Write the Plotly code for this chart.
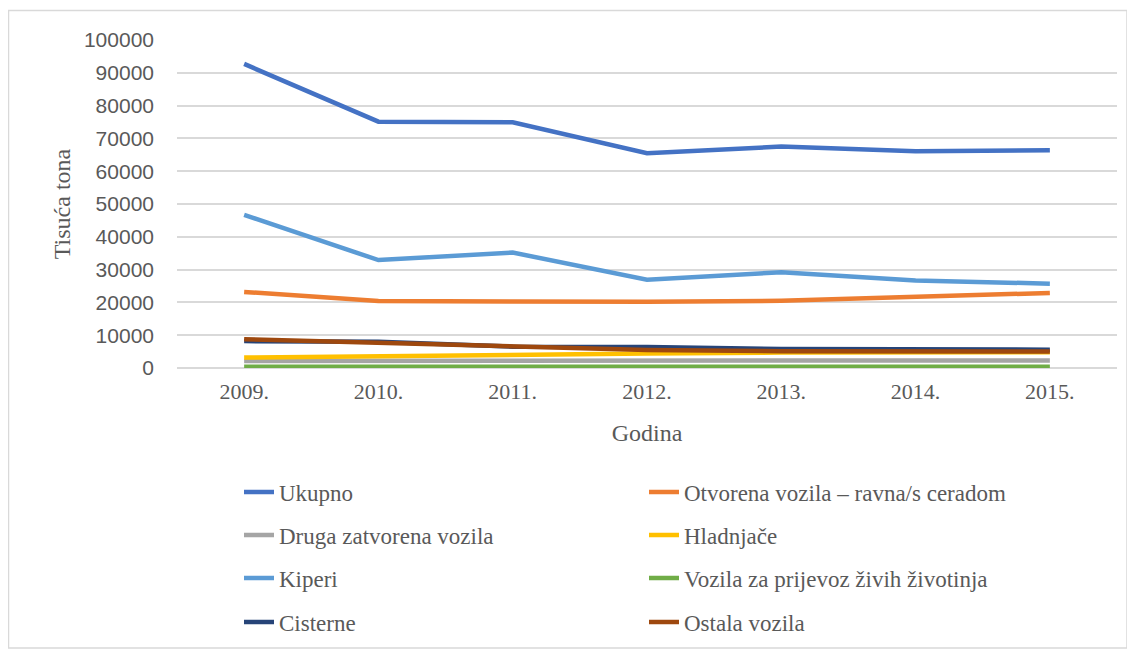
import plotly.graph_objects as go

years = ["2009.", "2010.", "2011.", "2012.", "2013.", "2014.", "2015."]

ukupno = [92700, 75100, 74900, 65500, 67500, 66100, 66400]
otvorena = [23200, 20400, 20300, 20200, 20500, 21600, 22900]
druga = [2100, 2200, 2200, 2300, 2300, 2300, 2300]
hladnjace = [3200, 3700, 4100, 4400, 4700, 4800, 4800]
kiperi = [46700, 32900, 35200, 26900, 29200, 26700, 25700]
zivotinje = [400, 400, 400, 400, 400, 400, 400]
cisterne = [8200, 8000, 6500, 6400, 5800, 5700, 5600]
ostala = [8800, 7700, 6400, 5500, 5100, 5000, 5000]

series = [
    ("Ukupno", ukupno, "#4472C4"),
    ("Otvorena vozila – ravna/s ceradom", otvorena, "#ED7D31"),
    ("Druga zatvorena vozila", druga, "#A5A5A5"),
    ("Hladnjače", hladnjace, "#FFC000"),
    ("Kiperi", kiperi, "#5B9BD5"),
    ("Vozila za prijevoz živih životinja", zivotinje, "#70AD47"),
    ("Cisterne", cisterne, "#264478"),
    ("Ostala vozila", ostala, "#9E480E"),
]

# the page puts the figure 8px in from the top-left corner
OFF = 8
W, H = 1135 - OFF, 654 - OFF
L, R, T, B = 177 - OFF, 18, 40 - OFF, 286
pw, ph = W - L - R, H - T - B


def px_x(x):
    return (x - OFF - L) / pw


def px_y(y):
    return (H - B - (y - OFF)) / ph


SERIF = "Liberation Serif, Times New Roman, serif"
GREY = "#595959"

fig = go.Figure()
legend_names = ["legend", "legend2", "legend3", "legend4"]
for i, (name, vals, color) in enumerate(series):
    fig.add_trace(go.Scatter(
        x=years, y=vals, name=name, mode="lines",
        line=dict(color=color, width=4.5),
        legend=legend_names[i // 2],
    ))

row_y = [492, 535, 578, 622]
legend_common = dict(
    orientation="h", xanchor="left", yanchor="middle",
    entrywidth=360, entrywidthmode="pixels",
    font=dict(family=SERIF, size=23, color=GREY),
    bgcolor="rgba(0,0,0,0)", itemclick=False,
)
layout_legends = {}
for name, yy in zip(legend_names, row_y):
    layout_legends[name] = dict(legend_common, x=px_x(239), y=px_y(yy))

fig.update_layout(
    width=W, height=H,
    margin=dict(l=L, r=R, t=T, b=B, autoexpand=False),
    paper_bgcolor="white", plot_bgcolor="white",
    showlegend=True,
    xaxis=dict(
        type="category", range=[-0.5, 6.5], automargin=False,
        showgrid=False, showline=False, zeroline=False, ticks="",
        tickfont=dict(family=SERIF, size=22, color=GREY),
        ticklabelstandoff=8,
        title=dict(text="Godina", font=dict(family=SERIF, size=24, color=GREY), standoff=21),
    ),
    yaxis=dict(
        range=[0, 100000], dtick=10000, tickformat="d", automargin=False,
        showgrid=True, gridcolor="#D9D9D9", gridwidth=1.5,
        zeroline=True, zerolinecolor="#D9D9D9", zerolinewidth=1.5,
        showline=False, ticks="",
        tickfont=dict(family="Liberation Sans, Arial, sans-serif", size=21, color=GREY),
        ticklabelstandoff=22,
        title=dict(text="Tisuća tona", font=dict(family=SERIF, size=24, color=GREY), standoff=6),
    ),
    shapes=[dict(
        type="rect", xref="paper", yref="paper",
        x0=px_x(8.5), x1=px_x(1127), y0=px_y(648), y1=px_y(10.5),
        line=dict(color="#D9D9D9", width=1.5), fillcolor="rgba(0,0,0,0)", layer="below",
    )],
    **layout_legends,
)

fig.write_html("out.html")
